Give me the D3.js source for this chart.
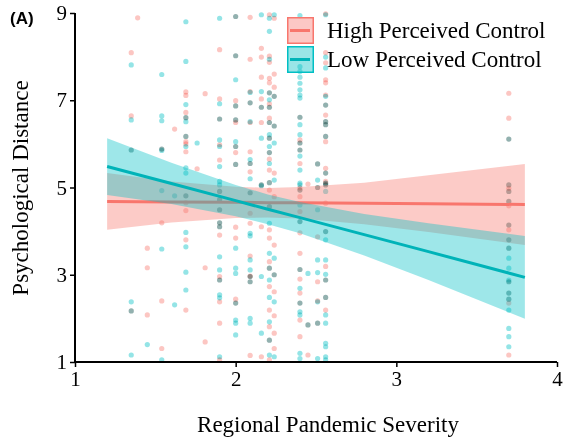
<!DOCTYPE html>
<html>
<head>
<meta charset="utf-8">
<script src="https://cdn.jsdelivr.net/npm/d3@7/dist/d3.min.js"></script>
<style>
  body { margin: 0; background: #fff; }
  svg { display: block; }
</style>
</head>
<body>
<div id="chart"></div>
<script>
// Regional severity columns (x) and psychological distance values per group
const severity = [1.35, 1.39, 1.45, 1.54, 1.62, 1.69, 1.76, 1.81, 1.90, 2.00, 2.09, 2.16, 2.21, 2.24, 2.40, 2.45, 2.51, 2.56, 3.70];

const highControl = [
  [8.09, 6.64, 5.86, 2.17],
  [8.89],
  [3.61, 3.16, 2.08],
  [5.88, 4.19, 2.40, 1.31],
  [6.34],
  [7.19, 7.11, 6.72, 6.60, 6.17, 6.05, 6.00, 5.82, 4.81, 4.65, 4.47, 3.80, 2.19],
  [5.43],
  [7.15, 3.16, 1.46],
  [8.16, 7.03, 6.57, 5.98, 5.63, 4.91, 4.72, 4.49, 4.19, 4.10, 3.91, 2.96, 2.88, 2.38, 1.89, 1.05],
  [8.92, 8.02, 6.99, 6.87, 6.55, 6.49, 5.94, 5.80, 5.53, 4.09, 3.84, 2.44, 2.35],
  [8.90, 7.94, 7.20, 6.94, 6.49, 5.82, 5.55, 5.36, 4.88, 4.41, 4.18, 3.43, 2.97, 2.96, 2.84, 1.15],
  [8.19, 7.99, 7.53, 7.03, 6.84, 6.49, 5.06, 4.10, 1.12],
  [8.96, 8.01, 7.87, 7.50, 7.40, 7.17, 6.92, 6.84, 6.59, 6.49, 6.13, 5.80, 5.65, 5.40, 5.11, 4.94, 4.56, 4.03, 3.84, 3.30, 3.15, 2.73, 2.19, 1.81, 1.50, 1.05],
  [8.88, 7.60, 7.30, 7.09, 6.41, 5.33, 4.79, 3.68, 3.00, 2.61, 2.06, 1.66, 1.31],
  [6.61, 6.09, 6.02, 5.86, 5.55, 4.99, 4.94, 4.79, 4.45, 4.22, 3.96, 3.49, 3.12, 2.90, 2.58, 2.35, 1.96, 1.58],
  [5.08, 1.85, 1.16],
  [5.54, 5.00, 3.87, 2.84, 2.40, 1.89],
  [8.98, 8.09, 7.86, 7.47, 7.40, 7.12, 6.89, 6.66, 6.51, 6.44, 6.17, 6.05, 5.44, 5.33, 5.14, 5.10, 5.06, 4.64, 3.99, 3.19, 2.88, 2.48, 2.19],
  [7.16, 6.59, 6.11, 5.06, 4.98, 4.91, 4.68, 4.58, 4.14, 4.03, 3.80, 3.61, 2.84, 2.58, 2.44, 2.35, 1.16]
];

const lowControl = [
  [7.81, 6.55, 5.86, 2.38, 2.17, 1.16],
  [],
  [1.40],
  [7.59, 6.64, 6.53, 5.88, 5.85, 4.93, 3.59, 1.05],
  [4.81, 2.31],
  [8.80, 7.89, 6.90, 6.60, 6.51, 6.17, 5.94, 5.45, 5.33, 4.81, 3.97, 3.64, 3.06, 2.65],
  [6.02],
  [],
  [8.88, 6.92, 6.57, 6.09, 5.94, 5.48, 5.14, 5.06, 4.91, 4.72, 4.49, 4.19, 4.10, 3.41, 3.11, 2.88, 2.54, 2.47, 1.12],
  [8.92, 8.02, 7.47, 6.87, 6.55, 6.05, 5.94, 5.53, 3.61, 3.15, 3.03, 2.35, 1.96, 1.89, 1.62],
  [7.18, 6.94, 6.51, 5.64, 5.55, 5.20, 4.88, 3.95, 3.89, 3.34, 3.11, 2.96, 2.84, 2.00, 1.89],
  [8.96, 7.20, 6.84, 6.13, 5.06, 5.04, 2.96, 1.66],
  [8.88, 8.58, 7.94, 7.17, 7.01, 6.84, 6.49, 6.21, 6.13, 5.94, 5.80, 5.55, 5.11, 4.56, 4.18, 3.49, 3.15, 2.88, 2.48, 1.92, 1.50, 1.16],
  [8.96, 7.09, 6.41, 6.02, 5.17, 3.38, 3.00, 2.38, 1.12],
  [8.94, 7.77, 7.66, 7.53, 7.39, 7.24, 7.12, 7.05, 6.61, 6.44, 6.21, 6.02, 5.86, 5.72, 5.40, 5.10, 5.06, 4.94, 4.60, 4.22, 3.12, 2.69, 2.35, 2.15, 2.08, 1.20, 1.08],
  [3.03, 1.85],
  [5.54, 5.17, 5.00, 4.49, 3.34, 3.05, 2.38, 1.89, 1.08],
  [8.96, 7.99, 7.74, 7.09, 6.89, 6.51, 6.44, 6.17, 5.33, 5.10, 5.06, 4.91, 3.99, 3.80, 3.34, 3.01, 2.88, 2.48, 2.08, 1.89, 1.43, 1.35, 1.12, 1.05],
  [6.11, 5.06, 4.91, 4.68, 4.14, 3.80, 3.61, 3.38, 3.15, 2.88, 2.84, 2.58, 2.44, 2.19, 1.77, 1.58, 1.35]
];

// Fitted lines and confidence bands
const bandX = [1.2, 1.6, 2.0, 2.2, 2.4, 2.8, 3.2, 3.8];
const highFit = [4.68, 4.67, 4.66, 4.65, 4.65, 4.64, 4.63, 4.61];
const highLower = [4.03, 4.20, 4.30, 4.31, 4.29, 4.16, 3.98, 3.68];
const highUpper = [5.33, 5.14, 5.02, 4.99, 5.01, 5.11, 5.28, 5.54];
const lowFit = [5.48, 5.09, 4.70, 4.50, 4.31, 3.92, 3.53, 2.94];
const lowLower = [4.83, 4.62, 4.34, 4.16, 3.95, 3.44, 2.88, 1.99];
const lowUpper = [6.13, 5.57, 5.06, 4.84, 4.67, 4.39, 4.18, 3.89];

const xTicks = [1, 2, 3, 4];
const yTicks = [1, 3, 5, 7, 9];
const groups = ['High Perceived Control', 'Low Perceived Control'];
const colors = ['#F8766D', '#00BFC4'];

const width = 563, height = 441;
const serif = '"Liberation Serif", "Times New Roman", serif';

const svg = d3.select('#chart').append('svg')
  .attr('width', width)
  .attr('height', height);

const x = d3.scaleLinear().domain([1, 4]).range([75, 557]);
const y = d3.scaleLinear().domain([1, 9]).range([362, 13]);

// points
const pointLayer = svg.append('g');
const addPoints = (sets, color) => {
  sets.forEach((vals, i) => {
    pointLayer.selectAll(null)
      .data(vals)
      .enter()
      .append('circle')
      .attr('cx', x(severity[i]))
      .attr('cy', d => y(d))
      .attr('r', 2.6)
      .attr('fill', color)
      .attr('opacity', 0.42)
      .style('mix-blend-mode', 'multiply');
  });
};
addPoints(highControl, colors[0]);
addPoints(lowControl, colors[1]);

const area = (lo, hi) => d3.area()
  .x((d, i) => x(bandX[i]))
  .y0((d, i) => y(lo[i]))
  .y1((d, i) => y(hi[i]))(bandX);

const line = vals => d3.line()
  .x((d, i) => x(bandX[i]))
  .y((d, i) => y(vals[i]))(bandX);

// high control band + line
svg.append('path')
  .attr('d', area(highLower, highUpper))
  .attr('fill', colors[0])
  .attr('opacity', 0.38);
svg.append('path')
  .attr('d', line(highFit))
  .attr('fill', 'none')
  .attr('stroke', colors[0])
  .attr('stroke-width', 3);

// low control band + line
svg.append('path')
  .attr('d', area(lowLower, lowUpper))
  .attr('fill', colors[1])
  .attr('opacity', 0.38);
svg.append('path')
  .attr('d', line(lowFit))
  .attr('fill', 'none')
  .attr('stroke', '#00B3B8')
  .attr('stroke-width', 3);

// axes
const xAxis = svg.append('g')
  .attr('transform', `translate(0,${y(1)})`)
  .call(d3.axisBottom(x).tickValues(xTicks).tickSize(5).tickPadding(4).tickFormat(d3.format('d')));
const yAxis = svg.append('g')
  .attr('transform', `translate(${x(1)},0)`)
  .call(d3.axisLeft(y).tickValues(yTicks).tickSize(5).tickPadding(3).tickFormat(d3.format('d')));

[xAxis, yAxis].forEach(ax => {
  ax.select('.domain').attr('stroke', '#000').attr('stroke-width', 2);
  ax.selectAll('.tick line').attr('stroke', '#000').attr('stroke-width', 1.5);
  ax.selectAll('.tick text')
    .attr('fill', '#000')
    .style('font-family', serif)
    .style('font-size', '21px');
});
xAxis.select('.domain').attr('d', `M${x(1)},0H${x(4)}`);
yAxis.select('.domain').attr('d', `M0,${y(9)}V${y(1)}`);

// axis titles
svg.append('text')
  .attr('x', (x(1) + x(4)) / 2 + 12)
  .attr('y', 432)
  .attr('text-anchor', 'middle')
  .style('font-family', serif)
  .style('font-size', '23px')
  .text('Regional Pandemic Severity');

svg.append('text')
  .attr('transform', `translate(28,${188}) rotate(-90)`)
  .attr('text-anchor', 'middle')
  .style('font-family', serif)
  .style('font-size', '23px')
  .text('Psychological Distance');

// panel label
svg.append('text')
  .attr('x', 10)
  .attr('y', 24)
  .style('font-family', '"Liberation Sans", Arial, sans-serif')
  .style('font-weight', 'bold')
  .style('font-size', '17px')
  .text('(A)');

// legend
const legend = svg.append('g').attr('transform', 'translate(287,17)');
const items = legend.selectAll('g')
  .data(groups)
  .enter()
  .append('g')
  .attr('transform', (d, i) => `translate(0,${i * 29})`);

items.append('rect')
  .attr('x', 0.75)
  .attr('y', 0.75)
  .attr('width', 25.5)
  .attr('height', 25.5)
  .attr('fill', (d, i) => colors[i])
  .attr('fill-opacity', 0.4)
  .attr('stroke', (d, i) => colors[i])
  .attr('stroke-width', 1.5);
items.append('line')
  .attr('x1', 3).attr('x2', 23)
  .attr('y1', 13.5).attr('y2', 13.5)
  .attr('stroke', (d, i) => i ? '#00B3B8' : colors[0])
  .attr('stroke-width', 3);
items.append('text')
  .attr('x', 40)
  .attr('y', 21)
  .style('font-family', serif)
  .style('font-size', '23px')
  .text(d => d);
</script>
</body>
</html>
